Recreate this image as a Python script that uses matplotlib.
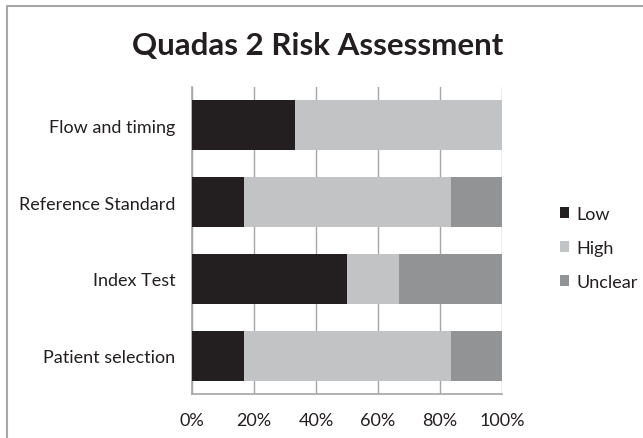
import numpy as np
import matplotlib.pyplot as plt
from matplotlib.lines import Line2D

# quadas 2 risk of bias, share of studies per domain
categories = ["Patient selection", "Index Test", "Reference Standard", "Flow and timing"]
low = [16.7, 50.0, 16.7, 33.3]
high = [66.7, 16.7, 66.7, 66.7]
unclear = [16.6, 33.3, 16.6, 0.0]
series_names = ["Low", "High", "Unclear"]
colors = ["#231f20", "#c2c3c4", "#929395"]

plt.rcParams['font.family'] = ['Lato', 'DejaVu Sans']

fig = plt.figure(figsize=(6.43, 4.39), dpi=100)
ax = fig.add_axes([0.2986, 0.1002, 0.4821, 0.6993])

y = np.arange(len(categories))
left = np.zeros(len(categories))
for vals, name, col in zip([low, high, unclear], series_names, colors):
    ax.barh(y, vals, left=left, height=0.65, color=col, label=name, zorder=3)
    left += np.array(vals)

ax.set_xlim(0, 100)
ax.set_ylim(-0.5, len(categories) - 0.5)
ax.set_yticks(y)
ax.set_yticklabels(categories, fontsize=13, color="#231f20")
ax.set_xticks(np.arange(0, 101, 20))
ax.set_xticklabels([f"{v}%" for v in range(0, 101, 20)], fontsize=13, color="#231f20")
ax.tick_params(axis='x', length=0, pad=13)
ax.tick_params(axis='y', length=0, pad=12)
ax.xaxis.grid(True, color="#a6a6a6", linewidth=1, zorder=0)
for s in ["top", "right"]:
    ax.spines[s].set_visible(False)
for s in ["left", "bottom"]:
    ax.spines[s].set_color("#a6a6a6")
    ax.spines[s].set_linewidth(1.2)

fig.text(0.494, 0.895, "Quadas 2 Risk Assessment", ha="center", va="center",
         fontsize=22.5, fontweight="bold", color="#231f20")

ax.legend(loc="center left", bbox_to_anchor=(1.187, 0.476), frameon=False,
          borderaxespad=0, borderpad=0,
          fontsize=13, handlelength=0.5, handleheight=0.5, handletextpad=0.4,
          labelspacing=1.0, labelcolor="#231f20")

# outer frame of the chart area (only left and top edges visible)
fig.add_artist(Line2D([0.011, 0.011, 1.0], [0.0, 0.984, 0.984], color="#a6a6a6",
                      linewidth=1.5, transform=fig.transFigure))

fig.savefig("out.png", dpi=100)
